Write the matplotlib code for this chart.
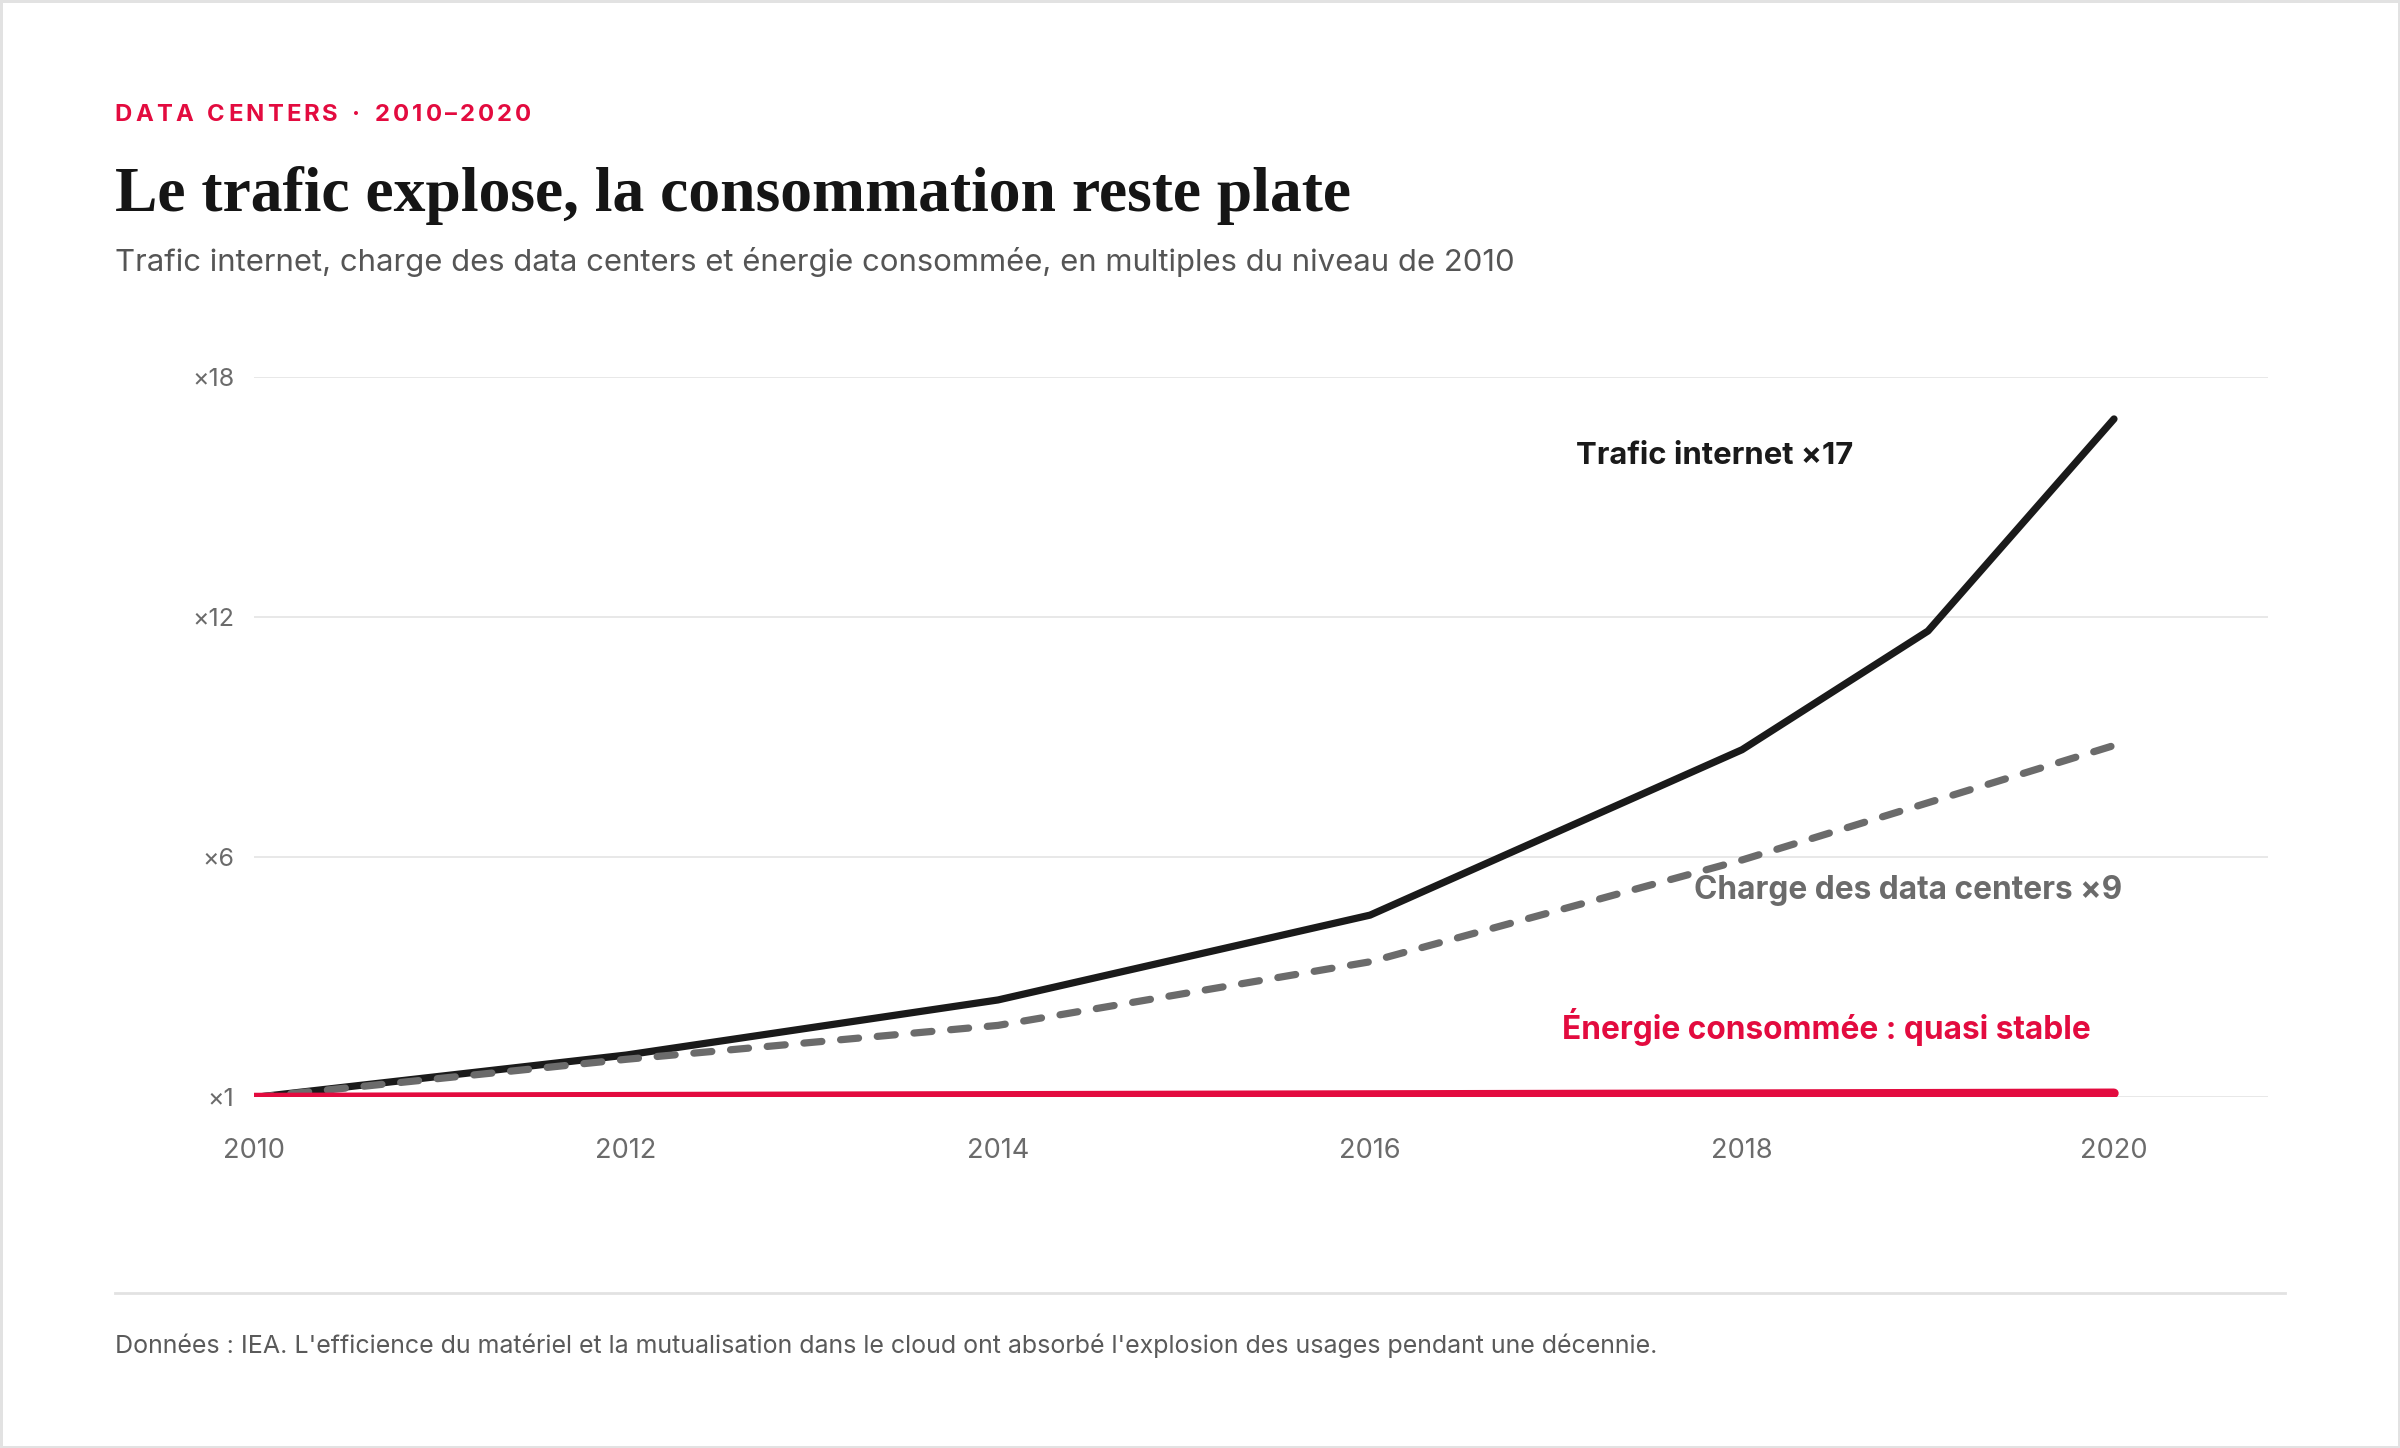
import matplotlib
matplotlib.use("Agg")
import matplotlib.pyplot as plt
from matplotlib.lines import Line2D
from matplotlib.patches import Rectangle

# Données (multiples du niveau de 2010)
years_traffic = [2010, 2012, 2014, 2016, 2018, 2019, 2020]
traffic = [1.0, 2.0, 3.3, 5.3, 9.2, 12.0, 17.0]

years_load = [2010, 2012, 2014, 2016, 2018, 2020]
load = [1.0, 1.9, 2.7, 4.2, 6.6, 9.3]

years_energy = [2010, 2012, 2014, 2016, 2018, 2020]
energy = [1.0, 1.02, 1.04, 1.06, 1.08, 1.1]

x_ticks = [2010, 2012, 2014, 2016, 2018, 2020]
y_tick_labels = ["×1", "×6", "×12", "×18"]

RED = "#e30b3f"
BLACK = "#1a1a1a"
GREY = "#6b6b6b"

plt.rcParams["font.family"] = ["Inter", "DejaVu Sans"]

fig = plt.figure(figsize=(12, 7.24), dpi=200)
fig.patch.set_facecolor("white")

ax = fig.add_axes([166 / 1568, 1 - 717 / 946, (1482 - 166) / 1568, (717 - 246) / 946])

ax.plot(years_traffic, traffic, color=BLACK, lw=2.6, solid_capstyle="round",
        solid_joinstyle="round", zorder=3)
ax.plot(years_load, load, color=GREY, lw=2.6, ls=(0, (2.5, 2.6)),
        dash_capstyle="round", zorder=4)
ax.plot(years_energy, energy, color=RED, lw=3.4, solid_capstyle="round", zorder=5)

ax.set_xlim(2010, 2020.83)
ax.set_ylim(1, 18)

# graduations régulièrement espacées comme dans l'original
y_pos = [1 + i * 17 / 3 for i in range(4)]
ax.set_yticks(y_pos)
ax.set_yticklabels(y_tick_labels)
ax.set_xticks(x_ticks)
ax.set_xticklabels([str(y) for y in x_ticks])

ax.tick_params(axis="both", length=0, colors=GREY, labelsize=9)
ax.tick_params(axis="y", pad=7)
ax.tick_params(axis="x", pad=14.5, labelsize=9.8)
for s in ax.spines.values():
    s.set_visible(False)
ax.grid(axis="y", color="#e4e4e4", lw=0.6)
ax.set_axisbelow(True)

# annotations directes
ax.text(2017.11, 16.12, "Trafic internet ×17", color=BLACK, fontsize=11.2,
        fontweight="bold", ha="left", va="center")
ax.text(2017.74, 5.87, "Charge des data centers ×9", color=GREY, fontsize=11.4,
        fontweight="bold", ha="left", va="center")
ax.text(2017.03, 2.66, "Énergie consommée : quasi stable", color=RED, fontsize=11.4,
        fontweight="bold", ha="left", va="center")

# en-tête : sur-titre espacé lettre par lettre
renderer = fig.canvas.get_renderer()
kicker = "DATA CENTERS · 2010–2020"
x = 75 / 1568
tracking = 3.1 / 2400
for ch in kicker:
    t = fig.text(x, 1 - 75 / 946, ch, color=RED, fontsize=8.6, fontweight="bold",
                 ha="left", va="center")
    w = t.get_window_extent(renderer).width / 2400
    if ch == " ":
        w = fig.text(0, 0, "n", fontsize=8.6, fontweight="bold", alpha=0).get_window_extent(renderer).width / 2400 * 0.55
    x += w + tracking

fig.text(75 / 1568, 1 - 138 / 946, "Le trafic explose, la consommation reste plate",
         family=["Liberation Serif", "DejaVu Serif"], fontsize=22.9, fontweight="bold",
         color="#151515", ha="left", va="baseline")
fig.text(75 / 1568, 1 - 171 / 946,
         "Trafic internet, charge des data centers et énergie consommée, en multiples du niveau de 2010",
         color="#555555", fontsize=11.2, ha="left", va="center")

# pied de page
fig.add_artist(Line2D([75 / 1568, 1493 / 1568], [1 - 845 / 946, 1 - 845 / 946],
                      color="#e2e2e2", lw=1.0, transform=fig.transFigure))
fig.text(75 / 1568, 1 - 879 / 946,
         "Données : IEA. L'efficience du matériel et la mutualisation dans le cloud ont absorbé l'explosion des usages pendant une décennie.",
         color="#5a5a5a", fontsize=9.0, ha="left", va="center")

fig.add_artist(Rectangle((0, 0), 1, 1, transform=fig.transFigure, fill=False,
                         edgecolor="#e2e2e2", lw=1.8))

fig.savefig("out.png", dpi=200, facecolor="white")
